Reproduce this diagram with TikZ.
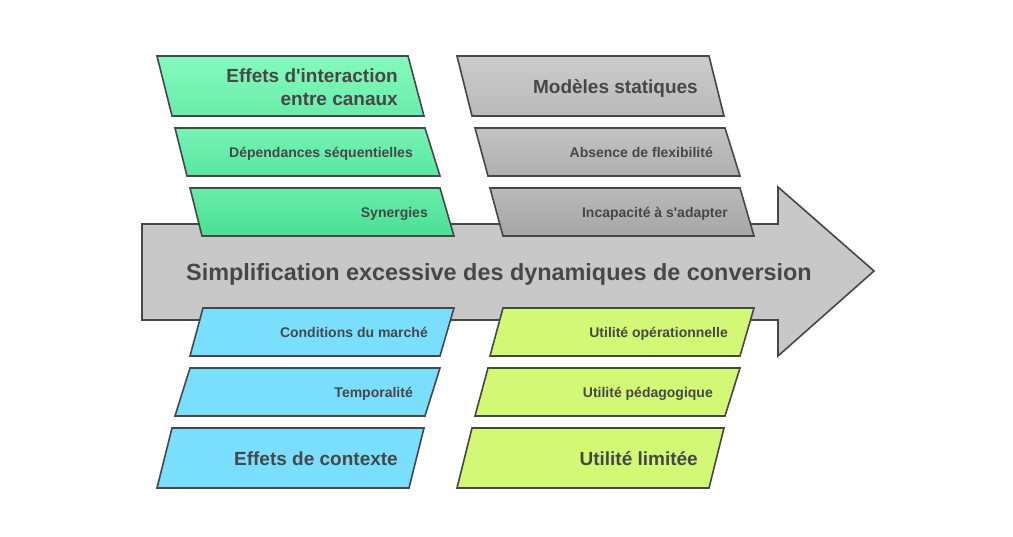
\documentclass[tikz,border=0pt]{standalone}
\usepackage{fontspec}
\setmainfont{Liberation Sans}
\definecolor{edge}{HTML}{474747}
\definecolor{txt}{HTML}{474747}
\definecolor{arrowfill}{HTML}{C8C8C8}
\definecolor{gA}{RGB}{134,250,190}
\definecolor{gB}{RGB}{104,237,170}
\definecolor{gC}{RGB}{74,224,150}
\definecolor{rA}{RGB}{204,204,204}
\definecolor{rB}{RGB}{185,185,185}
\definecolor{rC}{RGB}{166,166,166}
\definecolor{blue}{HTML}{7ADFFF}
\definecolor{lime}{HTML}{D3F875}
\tikzset{
  box/.style={draw=edge, line width=1.6pt, line join=miter},
  big/.style={font=\fontsize{19}{23}\selectfont\bfseries, text=txt, anchor=base east, align=right, inner sep=0pt},
  small/.style={font=\fontsize{14}{16}\selectfont\bfseries, text=txt, anchor=base east, inner sep=0pt},
  title/.style={font=\fontsize{23.4}{26}\selectfont\bfseries, text=txt, anchor=base, inner sep=0pt},
}
\begin{document}
\begin{tikzpicture}[x=1pt,y=-1pt]
\useasboundingbox (0,0) rectangle (1013,536);
% main arrow
\draw[box, fill=arrowfill] (142,224) -- (778,224) -- (778,187) -- (874,271) -- (778,356) -- (778,320) -- (142,320) -- cycle;
\node[title] (main) at (499,280) {Simplification excessive des dynamiques de conversion};
% top-left green
\shade[top color=gA, bottom color=gB] (157,56) -- (408,56) -- (424,116) -- (172,116) -- cycle;
\draw[box] (157,56) -- (408,56) -- (424,116) -- (172,116) -- cycle;
\node[big, anchor=east] (g1) at (398,87) {Effets d\textquotesingle interaction\\entre canaux};
\shade[top color=gA!50!gB, bottom color=gB!50!gC] (175,128) -- (425,128) -- (440,176) -- (187,176) -- cycle;
\draw[box] (175,128) -- (425,128) -- (440,176) -- (187,176) -- cycle;
\node[small] (g2) at (413,157) {Dépendances séquentielles};
\shade[top color=gB, bottom color=gC] (190,188) -- (440,188) -- (454,236) -- (202,236) -- cycle;
\draw[box] (190,188) -- (440,188) -- (454,236) -- (202,236) -- cycle;
\node[small] (g3) at (428,217) {Synergies};
% top-right gray
\shade[top color=rA, bottom color=rB] (457,56) -- (709,56) -- (724,116) -- (472,116) -- cycle;
\draw[box] (457,56) -- (709,56) -- (724,116) -- (472,116) -- cycle;
\node[big] (r1) at (698,93) {Modèles statiques};
\shade[top color=rA!50!rB, bottom color=rB!50!rC] (475,128) -- (725,128) -- (740,176) -- (488,176) -- cycle;
\draw[box] (475,128) -- (725,128) -- (740,176) -- (488,176) -- cycle;
\node[small] (r2) at (713,157) {Absence de flexibilité};
\shade[top color=rB, bottom color=rC] (490,188) -- (740,188) -- (754,236) -- (503,236) -- cycle;
\draw[box] (490,188) -- (740,188) -- (754,236) -- (503,236) -- cycle;
\node[small] (r3) at (728,217) {Incapacité à s\textquotesingle adapter};
% bottom-left blue
\draw[box, fill=blue] (203,308) -- (454,308) -- (440,356) -- (190,356) -- cycle;
\node[small] (b1) at (428,337) {Conditions du marché};
\draw[box, fill=blue] (190,368) -- (440,368) -- (425,416) -- (175,416) -- cycle;
\node[small] (b2) at (413,397) {Temporalité};
\draw[box, fill=blue] (172,428) -- (424,428) -- (409,488) -- (157,488) -- cycle;
\node[big] (b3) at (398,465) {Effets de contexte};
% bottom-right lime
\draw[box, fill=lime] (503,308) -- (754,308) -- (740,356) -- (490,356) -- cycle;
\node[small] (y1) at (728,337) {Utilité opérationnelle};
\draw[box, fill=lime] (488,368) -- (740,368) -- (725,416) -- (475,416) -- cycle;
\node[small] (y2) at (713,397) {Utilité pédagogique};
\draw[box, fill=lime] (472,428) -- (724,428) -- (709,488) -- (457,488) -- cycle;
\node[big] (y3) at (698,465) {Utilité limitée};
\end{tikzpicture}
\end{document}
